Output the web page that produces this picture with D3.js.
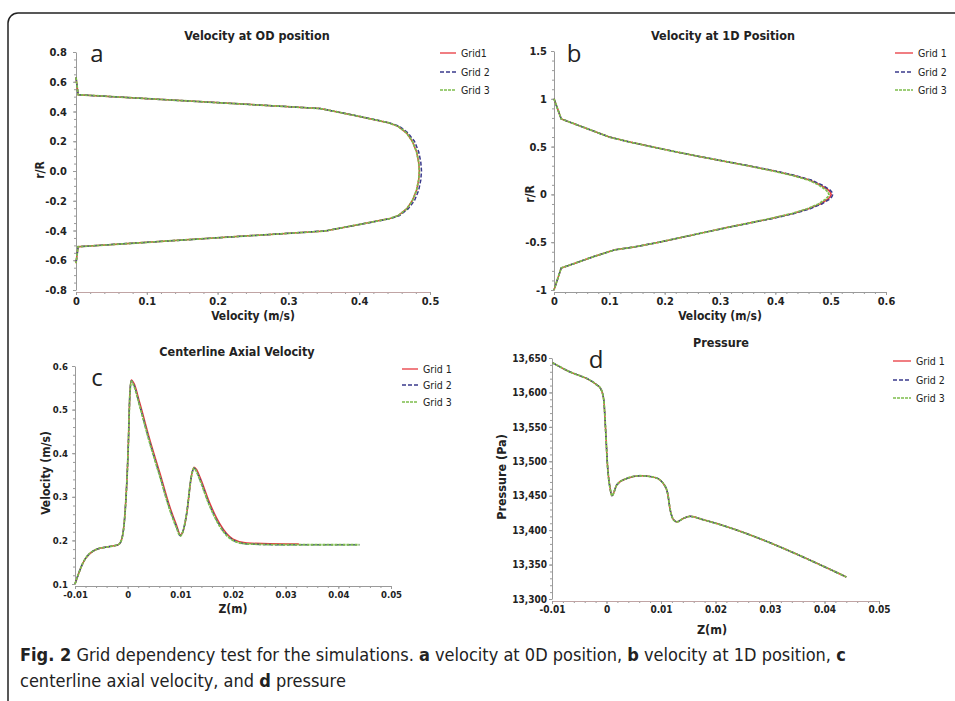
<!DOCTYPE html>
<html>
<head>
<meta charset="utf-8">
<script src="https://d3js.org/d3.v7.min.js"></script>
<style>
  body { margin: 0; background: #fff; }
  svg text { fill: #222; }
</style>
</head>
<body>
<svg id="fig" width="955" height="701"></svg>
<script>
// ---- data ----
// a: velocity profile at 0D (r/R vs velocity)
const aR     = [0.63, 0.513, 0.42, 0.375, 0.325, 0.3, 0.255, 0.2, 0.13, 0.06, 0, -0.06, -0.13, -0.2, -0.255, -0.3, -0.32, -0.36, -0.403, -0.509, -0.62];
const aGrid1 = [0, 0.003, 0.345, 0.392, 0.441, 0.455, 0.467, 0.475, 0.481, 0.484, 0.485, 0.484, 0.481, 0.475, 0.467, 0.455, 0.443, 0.40, 0.352, 0.003, 0];
const aGrid2 = [0, 0.003, 0.345, 0.393, 0.442, 0.457, 0.469, 0.478, 0.484, 0.487, 0.488, 0.487, 0.484, 0.478, 0.469, 0.457, 0.444, 0.40, 0.352, 0.003, 0];
const aGrid3 = [0, 0.003, 0.345, 0.392, 0.441, 0.455, 0.467, 0.475, 0.481, 0.484, 0.485, 0.484, 0.481, 0.475, 0.467, 0.455, 0.443, 0.40, 0.352, 0.003, 0];

// b: velocity profile at 1D
const bR     = [1.0, 0.79, 0.6, 0.55, 0.5, 0.45, 0.4, 0.35, 0.3, 0.25, 0.2, 0.15, 0.1, 0.05, 0.025, 0, -0.025, -0.05, -0.1, -0.15, -0.2, -0.25, -0.3, -0.35, -0.4, -0.45, -0.5, -0.55, -0.58, -0.65, -0.72, -0.77, -1.0];
const bGrid1 = [0, 0.013, 0.1, 0.135, 0.175, 0.216, 0.26, 0.305, 0.351, 0.394, 0.432, 0.462, 0.481, 0.495, 0.499, 0.501, 0.499, 0.495, 0.481, 0.46, 0.432, 0.395, 0.353, 0.31, 0.27, 0.23, 0.19, 0.145, 0.11, 0.072, 0.038, 0.013, 0];
const bGrid2 = [0, 0.013, 0.1, 0.135, 0.175, 0.216, 0.26, 0.306, 0.352, 0.396, 0.434, 0.465, 0.484, 0.498, 0.502, 0.504, 0.502, 0.498, 0.484, 0.463, 0.434, 0.397, 0.354, 0.311, 0.27, 0.23, 0.19, 0.145, 0.11, 0.072, 0.038, 0.013, 0];
const bGrid3 = [0, 0.013, 0.1, 0.135, 0.175, 0.216, 0.26, 0.305, 0.35, 0.392, 0.43, 0.46, 0.478, 0.491, 0.495, 0.497, 0.495, 0.491, 0.478, 0.458, 0.43, 0.393, 0.352, 0.31, 0.27, 0.23, 0.19, 0.145, 0.11, 0.072, 0.038, 0.013, 0];

// c: centerline axial velocity vs Z
const cZ     = [-0.01, -0.0085, -0.006, -0.0034, -0.0018, -0.0012, -0.0005, 0.0001, 0.0004, 0.0007, 0.0012, 0.0023, 0.0042, 0.0061, 0.008, 0.0093, 0.01, 0.0106, 0.0112, 0.0121, 0.0126, 0.0131, 0.0137, 0.0156, 0.0175, 0.02, 0.0226, 0.03, 0.0325, 0.044];
const cGrid1 = [0.1, 0.148, 0.179, 0.186, 0.19, 0.2, 0.263, 0.41, 0.53, 0.568, 0.56, 0.515, 0.431, 0.355, 0.277, 0.234, 0.213, 0.224, 0.26, 0.347, 0.368, 0.362, 0.346, 0.285, 0.238, 0.203, 0.194, 0.192, 0.192, null];
const cGrid2 = [0.1, 0.148, 0.179, 0.186, 0.19, 0.2, 0.263, 0.41, 0.53, 0.566, 0.556, 0.509, 0.425, 0.349, 0.272, 0.23, 0.211, 0.225, 0.262, 0.347, 0.366, 0.358, 0.341, 0.28, 0.234, 0.201, 0.192, 0.19, 0.19, 0.19];
const cGrid3 = [0.1, 0.148, 0.179, 0.186, 0.19, 0.2, 0.263, 0.41, 0.53, 0.565, 0.554, 0.507, 0.423, 0.347, 0.27, 0.228, 0.21, 0.225, 0.262, 0.347, 0.366, 0.357, 0.339, 0.278, 0.232, 0.2, 0.192, 0.19, 0.19, 0.19];

// d: pressure vs Z
const dZ     = [-0.0099, -0.0073, -0.0018, -0.0011, -0.0005, -0.0002, 0.0002, 0.0007, 0.001, 0.0019, 0.0037, 0.0062, 0.0086, 0.0098, 0.0104, 0.0112, 0.0117, 0.0123, 0.0129, 0.0141, 0.0153, 0.0178, 0.044];
const dGrid1 = [13643, 13632, 13611, 13606, 13589, 13551, 13492, 13459, 13450, 13466, 13475, 13479, 13477, 13473, 13468, 13454, 13429, 13415, 13412, 13417, 13420, 13415, 13332];
const dGrid2 = dGrid1.slice();
const dGrid3 = dGrid1.slice();

const legendA = ["Grid1", "Grid 2", "Grid 3"];
const legendBCD = ["Grid 1", "Grid 2", "Grid 3"];

const aXTicks = [0, 0.1, 0.2, 0.3, 0.4, 0.5];
const aYTicks = [-0.8, -0.6, -0.4, -0.2, 0, 0.2, 0.4, 0.6, 0.8];
const bXTicks = [0, 0.1, 0.2, 0.3, 0.4, 0.5, 0.6];
const bYTicks = [-1, -0.5, 0, 0.5, 1, 1.5];
const zTicks  = [-0.01, 0, 0.01, 0.02, 0.03, 0.04, 0.05];
const cYTicks = [0.1, 0.2, 0.3, 0.4, 0.5, 0.6];
const dYTicks = [13300, 13350, 13400, 13450, 13500, 13550, 13600, 13650];

const seriesStyle = [
  { color: "#e8393f", dash: null, width: 1.5 },
  { color: "#3a3a8c", dash: "4,2", width: 1.5 },
  { color: "#7dbd4c", dash: "3,1", width: 1.8 }
];

// plain hyphen for negatives, like the original
const fmt = d3.formatLocale({ decimal: ".", thousands: ",", grouping: [3], currency: ["", ""], minus: "-" }).format;

const svg = d3.select("#fig");

// frame with rounded corner
svg.append("rect")
  .attr("x", 8).attr("y", 13)
  .attr("width", 1000).attr("height", 760)
  .attr("rx", 10)
  .attr("fill", "none")
  .attr("stroke", "#222")
  .attr("stroke-width", 1.5);

const tickFont = "'DejaVu Sans Condensed', 'DejaVu Sans', sans-serif";

function drawPanel(p) {
  const x = d3.scaleLinear().domain(p.xDomain).range(p.xRange);
  const y = d3.scaleLinear().domain(p.yDomain).range(p.yRange);
  const g = svg.append("g");
  const bottom = p.yRange[0] + 2;

  // minor ticks
  g.append("g")
    .attr("transform", "translate(0," + bottom + ")")
    .call(d3.axisBottom(x).tickValues(x.ticks(p.xMinor)).tickSize(2).tickFormat(""))
    .call(s => s.select(".domain").remove());
  g.append("g")
    .attr("transform", "translate(" + p.xRange[0] + ",0)")
    .call(d3.axisLeft(y).tickValues(y.ticks(p.yMinor)).tickSize(2).tickFormat(""))
    .call(s => s.select(".domain").remove());

  const xAxis = g.append("g")
    .attr("transform", "translate(0," + bottom + ")")
    .call(d3.axisBottom(x).tickValues(p.xTicks).tickSize(3).tickSizeOuter(0).tickPadding(2).tickFormat(fmt(p.xFormat)));
  g.append("g")
    .attr("transform", "translate(" + p.xRange[0] + ",0)")
    .call(d3.axisLeft(y).tickValues(p.yTicks).tickSize(3).tickSizeOuter(0).tickPadding(p.yPad).tickFormat(fmt(p.yFormat)));

  g.selectAll(".domain, .tick line").attr("stroke", "#9a9a9a");
  xAxis.select(".domain").attr("stroke", p.xAxisColor || "#9a9a9a");
  g.selectAll(".tick text")
    .style("font-family", tickFont)
    .style("font-weight", "bold")
    .style("font-size", p.tickSize + "px")
    .attr("fill", "#222");

  // series
  const line = d3.line()
    .defined(d => d[0] != null && d[1] != null)
    .x(d => x(d[0]))
    .y(d => y(d[1]))
    .curve(p.curve);
  p.series.forEach((pts, i) => {
    g.append("path")
      .datum(pts)
      .attr("d", line)
      .attr("fill", "none")
      .attr("stroke", seriesStyle[i].color)
      .attr("stroke-width", seriesStyle[i].width)
      .attr("stroke-dasharray", seriesStyle[i].dash);
  });

  // title
  g.append("text")
    .attr("x", p.title[1]).attr("y", p.title[2])
    .attr("text-anchor", "middle")
    .style("font-family", tickFont)
    .style("font-weight", "bold")
    .style("font-size", "12.5px")
    .text(p.title[0]);

  // panel letter
  g.append("text")
    .attr("x", p.letter[1]).attr("y", p.letter[2])
    .attr("text-anchor", "middle")
    .style("font-family", "'Open Sans', sans-serif")
    .style("font-size", "24px")
    .text(p.letter[0]);

  // axis labels
  g.append("text")
    .attr("x", p.xLabel[1]).attr("y", p.xLabel[2])
    .attr("text-anchor", "middle")
    .style("font-family", tickFont)
    .style("font-weight", "bold")
    .style("font-size", p.labelSize + "px")
    .text(p.xLabel[0]);
  g.append("text")
    .attr("transform", "translate(" + p.yLabel[1] + "," + p.yLabel[2] + ") rotate(-90)")
    .attr("text-anchor", "middle")
    .attr("dy", "0.35em")
    .style("font-family", tickFont)
    .style("font-weight", "bold")
    .style("font-size", p.labelSize + "px")
    .text(p.yLabel[0]);

  // legend
  const leg = g.append("g");
  p.legendNames.forEach((name, i) => {
    const ly = p.legend.rows[i];
    leg.append("line")
      .attr("x1", p.legend.x1).attr("x2", p.legend.x2)
      .attr("y1", ly).attr("y2", ly)
      .attr("stroke", seriesStyle[i].color)
      .attr("stroke-width", 1.3)
      .attr("stroke-dasharray", seriesStyle[i].dash);
    leg.append("text")
      .attr("x", p.legend.x2 + 5).attr("y", ly)
      .attr("dy", "0.35em")
      .style("font-family", "'Liberation Sans Narrow', 'DejaVu Sans Condensed', sans-serif")
      .style("font-size", "10.5px")
      .attr("fill", "#444")
      .text(name);
  });
}

const zip = (xs, ys) => xs.map((v, i) => [v, ys[i]]);

drawPanel({
  xDomain: [0, 0.5], xRange: [76, 430],
  yDomain: [-0.8, 0.8], yRange: [290, 52],
  xTicks: aXTicks, yTicks: aYTicks, xMinor: 25, yMinor: 40,
  xFormat: "", yFormat: ".1f", xAxisColor: "#c0a4a4",
  tickSize: 11, yPad: 6, labelSize: 12,
  curve: d3.curveLinear,
  series: [zip(aGrid1, aR), zip(aGrid2, aR), zip(aGrid3, aR)],
  title: ["Velocity at OD position", 257, 40],
  letter: ["a", 97, 62],
  xLabel: ["Velocity (m/s)", 253, 320],
  yLabel: ["r/R", 40, 170],
  legendNames: legendA,
  legend: { x1: 440, x2: 456, rows: [53, 72, 90] }
});

drawPanel({
  xDomain: [0, 0.6], xRange: [554, 886],
  yDomain: [-1, 1.5], yRange: [290, 51],
  xTicks: bXTicks, yTicks: bYTicks, xMinor: 30, yMinor: 25,
  xFormat: "", yFormat: "",
  tickSize: 11, yPad: 4, labelSize: 12,
  curve: d3.curveLinear,
  series: [zip(bGrid1, bR), zip(bGrid2, bR), zip(bGrid3, bR)],
  title: ["Velocity at 1D Position", 723, 40],
  letter: ["b", 574, 62],
  xLabel: ["Velocity (m/s)", 720, 320],
  yLabel: ["r/R", 530, 194],
  legendNames: legendBCD,
  legend: { x1: 895, x2: 913, rows: [53, 72, 90] }
});

drawPanel({
  xDomain: [-0.01, 0.05], xRange: [75, 391],
  yDomain: [0.1, 0.6], yRange: [584, 366],
  xTicks: zTicks, yTicks: cYTicks, xMinor: 30, yMinor: 25,
  xFormat: "", yFormat: "",
  tickSize: 9.5, yPad: 4, labelSize: 12,
  curve: d3.curveMonotoneX,
  series: [zip(cZ, cGrid1), zip(cZ, cGrid2), zip(cZ, cGrid3)],
  title: ["Centerline Axial Velocity", 237, 356],
  letter: ["c", 97, 386],
  xLabel: ["Z(m)", 233, 613],
  yLabel: ["Velocity (m/s)", 46, 473],
  legendNames: legendBCD,
  legend: { x1: 402, x2: 418, rows: [369, 385, 402] }
});

drawPanel({
  xDomain: [-0.01, 0.05], xRange: [552, 879],
  yDomain: [13300, 13650], yRange: [599, 358],
  xTicks: zTicks, yTicks: dYTicks, xMinor: 30, yMinor: 35,
  xFormat: "", yFormat: ",", xAxisColor: "#c0a4a4",
  tickSize: 10, yPad: 2, labelSize: 12.5,
  curve: d3.curveMonotoneX,
  series: [zip(dZ, dGrid1), zip(dZ, dGrid2), zip(dZ, dGrid3)],
  title: ["Pressure", 721, 347],
  letter: ["d", 596, 368],
  xLabel: ["Z(m)", 712, 634],
  yLabel: ["Pressure (Pa)", 502, 477],
  legendNames: legendBCD,
  legend: { x1: 893, x2: 911, rows: [361, 380, 398] }
});

// caption
const capFont = "'Liberation Sans Narrow', 'DejaVu Sans Condensed', sans-serif";
const cap1 = svg.append("text").attr("x", 20).attr("y", 661)
  .style("font-family", capFont).style("font-size", "18px");
[["Fig. 2", true], [" Grid dependency test for the simulations. ", false], ["a", true],
 [" velocity at 0D position, ", false], ["b", true], [" velocity at 1D position, ", false], ["c", true]]
  .forEach(([t, b]) => cap1.append("tspan").style("font-weight", b ? "bold" : "normal").text(t));
const cap2 = svg.append("text").attr("x", 20).attr("y", 687)
  .style("font-family", capFont).style("font-size", "18px");
[["centerline axial velocity, and ", false], ["d", true], [" pressure", false]]
  .forEach(([t, b]) => cap2.append("tspan").style("font-weight", b ? "bold" : "normal").text(t));
</script>
</body>
</html>
